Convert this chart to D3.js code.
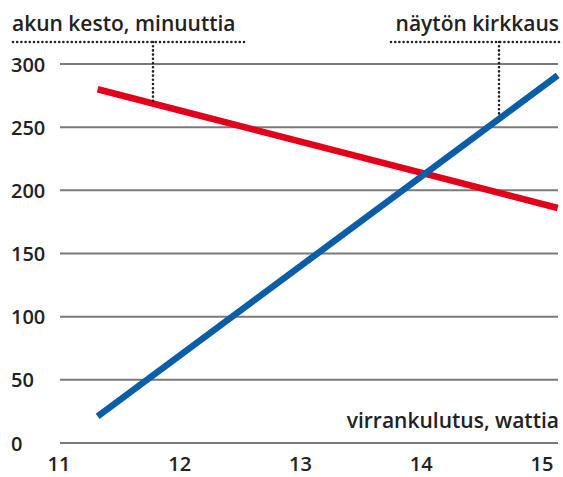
<!DOCTYPE html>
<html>
<head>
<meta charset="utf-8">
<script src="https://cdn.jsdelivr.net/npm/d3@7"></script>
<style>
    body { margin: 0; background: #fff; }
    svg { display: block; font-family: "Open Sans", "Noto Sans", sans-serif; }
</style>
</head>
<body>
<svg id="chart" width="563" height="477"></svg>
<script>
// Data
const xTicks = [11, 12, 13, 14, 15];
const yTicks = [0, 50, 100, 150, 200, 250, 300];
const batteryWatts = [11.32, 15.13];   // akun kesto
const batteryMinutes = [280, 186];
const brightnessWatts = [11.32, 15.13]; // näytön kirkkaus
const brightnessValues = [21, 291];

const width = 563;
const margin = { left: 60, right: 5 };

const svg = d3.select("#chart");

// Scales
const xScale = d3.scaleLinear()
    .domain([11, 15])
    .range([59, 542]);

const yScale = d3.scaleLinear()
    .domain([0, 300])
    .range([443, 64]);

// Gridlines
svg.append("g")
    .selectAll("line")
    .data(yTicks)
    .join("line")
    .attr("x1", margin.left)
    .attr("x2", width - margin.right)
    .attr("y1", d => yScale(d))
    .attr("y2", d => yScale(d))
    .attr("stroke", "#7a7a7a")
    .attr("stroke-width", 2);

// Y axis labels
svg.append("g")
    .selectAll("text")
    .data(yTicks)
    .join("text")
    .attr("x", 11)
    .attr("y", d => yScale(d) + 7.5)
    .attr("font-size", 20)
    .attr("font-weight", 600)
    .attr("fill", "#222")
    .text(d => d);

// X axis labels
svg.append("g")
    .selectAll("text")
    .data(xTicks)
    .join("text")
    .attr("x", d => xScale(d))
    .attr("y", 471)
    .attr("text-anchor", "middle")
    .attr("font-size", 20)
    .attr("font-weight", 600)
    .attr("fill", "#222")
    .text(d => d);

// Lines
const line = d3.line()
    .x(d => xScale(d[0]))
    .y(d => yScale(d[1]));

svg.append("path")
    .datum(d3.zip(batteryWatts, batteryMinutes))
    .attr("d", line)
    .attr("fill", "none")
    .attr("stroke", "#e2001a")
    .attr("stroke-width", 6.5);

svg.append("path")
    .datum(d3.zip(brightnessWatts, brightnessValues))
    .attr("d", line)
    .attr("fill", "none")
    .attr("stroke", "#0a5ea8")
    .attr("stroke-width", 6.5);

// Annotation leaders (dotted)
function leader(x1, x2, xv, seriesX, seriesY) {
    const yLine = 42;
    const wx = xScale.invert(xv);
    const t = (wx - seriesX[0]) / (seriesX[1] - seriesX[0]);
    const vy = yScale(seriesY[0] + t * (seriesY[1] - seriesY[0])) - 2;
    [[x1, yLine, x2, yLine], [xv, yLine, xv, vy]].forEach(([a, b, c, d]) => {
        svg.append("line")
            .attr("x1", a).attr("y1", b).attr("x2", c).attr("y2", d)
            .attr("stroke", "#222").attr("stroke-width", 2.6)
            .attr("stroke-dasharray", "0,4.2").attr("stroke-linecap", "round");
    });
}

leader(13, 245, 153, batteryWatts, batteryMinutes);
leader(391, 560, 499, brightnessWatts, brightnessValues);

svg.append("text")
    .attr("x", 12)
    .attr("y", 31)
    .attr("font-size", 21)
    .attr("font-weight", 600)
    .attr("fill", "#222")
    .text("akun kesto, minuuttia");

svg.append("text")
    .attr("x", 559)
    .attr("y", 31)
    .attr("text-anchor", "end")
    .attr("font-size", 21)
    .attr("font-weight", 600)
    .attr("fill", "#222")
    .text("näytön kirkkaus");

svg.append("text")
    .attr("x", 559)
    .attr("y", 428)
    .attr("text-anchor", "end")
    .attr("font-size", 21)
    .attr("font-weight", 600)
    .attr("fill", "#222")
    .text("virrankulutus, wattia");
</script>
</body>
</html>
